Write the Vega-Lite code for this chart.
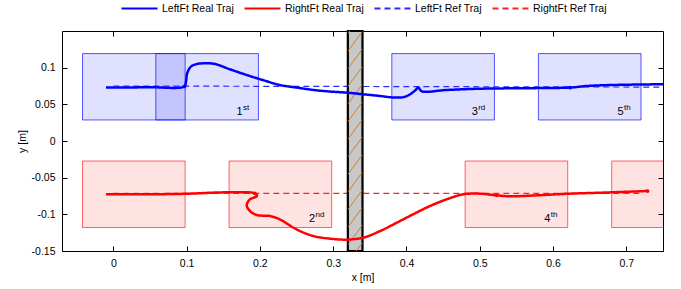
{
  "$schema": "https://vega.github.io/schema/vega-lite/v6.json",
  "width": 601,
  "height": 220,
  "autosize": {"type": "none"},
  "padding": {"left": 62, "top": 31, "right": 18, "bottom": 38},
  "config": {
    "view": {"stroke": "#000000", "strokeWidth": 1},
    "font": "Liberation Sans",
    "axis": {
      "domain": false,
      "grid": false,
      "tickSize": -5,
      "tickColor": "#000000",
      "tickWidth": 1,
      "labelFont": "Liberation Sans",
      "labelFontSize": 10.5,
      "labelColor": "#000000",
      "titleFont": "Liberation Sans",
      "titleFontSize": 10.5,
      "titleFontWeight": "normal",
      "titleColor": "#000000"
    }
  },
  "datasets": {
    "boxes": [
      {"foot": "L", "x": -0.042, "x2": 0.098, "y": 0.0287, "y2": 0.1192},
      {"foot": "L", "x": 0.058, "x2": 0.198, "y": 0.0287, "y2": 0.1192},
      {"foot": "L", "x": 0.38, "x2": 0.52, "y": 0.0287, "y2": 0.1192},
      {"foot": "L", "x": 0.58, "x2": 0.72, "y": 0.0287, "y2": 0.1192},
      {"foot": "R", "x": -0.042, "x2": 0.098, "y": -0.118, "y2": -0.0273},
      {"foot": "R", "x": 0.158, "x2": 0.298, "y": -0.118, "y2": -0.0273},
      {"foot": "R", "x": 0.48, "x2": 0.62, "y": -0.118, "y2": -0.0273},
      {"foot": "R", "x": 0.68, "x2": 0.82, "y": -0.118, "y2": -0.0273}
    ],
    "traj": [
      {"s": "LeftFt Ref Traj", "i": 0, "x": 0.0, "y": 0.075},
      {"s": "LeftFt Ref Traj", "i": 1, "x": 0.75, "y": 0.0735},
      {"s": "RightFt Ref Traj", "i": 0, "x": 0.0, "y": -0.0715},
      {"s": "RightFt Ref Traj", "i": 1, "x": 0.72, "y": -0.0715},
      {"s": "LeftFt Real Traj", "i": 0, "x": -0.010, "y": 0.0729},
      {"s": "LeftFt Real Traj", "i": 1, "x": 0.050, "y": 0.0733},
      {"s": "LeftFt Real Traj", "i": 2, "x": 0.097, "y": 0.0744},
      {"s": "LeftFt Real Traj", "i": 3, "x": 0.099, "y": 0.080},
      {"s": "LeftFt Real Traj", "i": 4, "x": 0.101, "y": 0.093},
      {"s": "LeftFt Real Traj", "i": 5, "x": 0.106, "y": 0.1015},
      {"s": "LeftFt Real Traj", "i": 6, "x": 0.114, "y": 0.105},
      {"s": "LeftFt Real Traj", "i": 7, "x": 0.125, "y": 0.106},
      {"s": "LeftFt Real Traj", "i": 8, "x": 0.138, "y": 0.1052},
      {"s": "LeftFt Real Traj", "i": 9, "x": 0.159, "y": 0.0978},
      {"s": "LeftFt Real Traj", "i": 10, "x": 0.182, "y": 0.090},
      {"s": "LeftFt Real Traj", "i": 11, "x": 0.205, "y": 0.0828},
      {"s": "LeftFt Real Traj", "i": 12, "x": 0.227, "y": 0.0764},
      {"s": "LeftFt Real Traj", "i": 13, "x": 0.250, "y": 0.0729},
      {"s": "LeftFt Real Traj", "i": 14, "x": 0.273, "y": 0.0696},
      {"s": "LeftFt Real Traj", "i": 15, "x": 0.296, "y": 0.0674},
      {"s": "LeftFt Real Traj", "i": 16, "x": 0.318, "y": 0.066},
      {"s": "LeftFt Real Traj", "i": 17, "x": 0.341, "y": 0.0637},
      {"s": "LeftFt Real Traj", "i": 18, "x": 0.364, "y": 0.0614},
      {"s": "LeftFt Real Traj", "i": 19, "x": 0.382, "y": 0.0594},
      {"s": "LeftFt Real Traj", "i": 20, "x": 0.396, "y": 0.0598},
      {"s": "LeftFt Real Traj", "i": 21, "x": 0.405, "y": 0.0637},
      {"s": "LeftFt Real Traj", "i": 22, "x": 0.413, "y": 0.0700},
      {"s": "LeftFt Real Traj", "i": 23, "x": 0.416, "y": 0.0729},
      {"s": "LeftFt Real Traj", "i": 24, "x": 0.421, "y": 0.0678},
      {"s": "LeftFt Real Traj", "i": 25, "x": 0.455, "y": 0.0696},
      {"s": "LeftFt Real Traj", "i": 26, "x": 0.500, "y": 0.0713},
      {"s": "LeftFt Real Traj", "i": 27, "x": 0.546, "y": 0.0719},
      {"s": "LeftFt Real Traj", "i": 28, "x": 0.623, "y": 0.0729},
      {"s": "LeftFt Real Traj", "i": 29, "x": 0.646, "y": 0.075},
      {"s": "LeftFt Real Traj", "i": 30, "x": 0.682, "y": 0.0764},
      {"s": "LeftFt Real Traj", "i": 31, "x": 0.750, "y": 0.0774},
      {"s": "RightFt Real Traj", "i": 0, "x": -0.010, "y": -0.0727},
      {"s": "RightFt Real Traj", "i": 1, "x": 0.043, "y": -0.0727},
      {"s": "RightFt Real Traj", "i": 2, "x": 0.098, "y": -0.072},
      {"s": "RightFt Real Traj", "i": 3, "x": 0.155, "y": -0.070},
      {"s": "RightFt Real Traj", "i": 4, "x": 0.193, "y": -0.0714},
      {"s": "RightFt Real Traj", "i": 5, "x": 0.196, "y": -0.0748},
      {"s": "RightFt Real Traj", "i": 6, "x": 0.186, "y": -0.0800},
      {"s": "RightFt Real Traj", "i": 7, "x": 0.182, "y": -0.0877},
      {"s": "RightFt Real Traj", "i": 8, "x": 0.1865, "y": -0.0955},
      {"s": "RightFt Real Traj", "i": 9, "x": 0.196, "y": -0.1010},
      {"s": "RightFt Real Traj", "i": 10, "x": 0.214, "y": -0.1023},
      {"s": "RightFt Real Traj", "i": 11, "x": 0.227, "y": -0.1068},
      {"s": "RightFt Real Traj", "i": 12, "x": 0.250, "y": -0.1205},
      {"s": "RightFt Real Traj", "i": 13, "x": 0.273, "y": -0.1296},
      {"s": "RightFt Real Traj", "i": 14, "x": 0.296, "y": -0.1332},
      {"s": "RightFt Real Traj", "i": 15, "x": 0.318, "y": -0.1345},
      {"s": "RightFt Real Traj", "i": 16, "x": 0.341, "y": -0.1318},
      {"s": "RightFt Real Traj", "i": 17, "x": 0.364, "y": -0.1228},
      {"s": "RightFt Real Traj", "i": 18, "x": 0.387, "y": -0.1113},
      {"s": "RightFt Real Traj", "i": 19, "x": 0.409, "y": -0.100},
      {"s": "RightFt Real Traj", "i": 20, "x": 0.432, "y": -0.0887},
      {"s": "RightFt Real Traj", "i": 21, "x": 0.455, "y": -0.0795},
      {"s": "RightFt Real Traj", "i": 22, "x": 0.4775, "y": -0.0727},
      {"s": "RightFt Real Traj", "i": 23, "x": 0.500, "y": -0.0718},
      {"s": "RightFt Real Traj", "i": 24, "x": 0.523, "y": -0.0741},
      {"s": "RightFt Real Traj", "i": 25, "x": 0.541, "y": -0.0754},
      {"s": "RightFt Real Traj", "i": 26, "x": 0.578, "y": -0.0741},
      {"s": "RightFt Real Traj", "i": 27, "x": 0.623, "y": -0.0718},
      {"s": "RightFt Real Traj", "i": 28, "x": 0.668, "y": -0.0704},
      {"s": "RightFt Real Traj", "i": 29, "x": 0.729, "y": -0.0682}
    ],
    "wall": [{"x": 0.32, "x2": 0.34, "y": -0.15, "y2": 0.15}],
    "hatch": [
      {"x": 0.3205, "x2": 0.3395, "y": -0.165, "y2": -0.139},
      {"x": 0.3205, "x2": 0.3395, "y": -0.141, "y2": -0.115},
      {"x": 0.3205, "x2": 0.3395, "y": -0.117, "y2": -0.091},
      {"x": 0.3205, "x2": 0.3395, "y": -0.093, "y2": -0.067},
      {"x": 0.3205, "x2": 0.3395, "y": -0.069, "y2": -0.043},
      {"x": 0.3205, "x2": 0.3395, "y": -0.045, "y2": -0.019},
      {"x": 0.3205, "x2": 0.3395, "y": -0.021, "y2": 0.005},
      {"x": 0.3205, "x2": 0.3395, "y": 0.003, "y2": 0.029},
      {"x": 0.3205, "x2": 0.3395, "y": 0.027, "y2": 0.053},
      {"x": 0.3205, "x2": 0.3395, "y": 0.051, "y2": 0.077},
      {"x": 0.3205, "x2": 0.3395, "y": 0.075, "y2": 0.101},
      {"x": 0.3205, "x2": 0.3395, "y": 0.099, "y2": 0.125},
      {"x": 0.3205, "x2": 0.3395, "y": 0.123, "y2": 0.149},
      {"x": 0.3205, "x2": 0.3395, "y": 0.147, "y2": 0.173}
    ],
    "marks": [
      {"foot": "L", "x": 0.097, "y": 0.0744},
      {"foot": "L", "x": 0.623, "y": 0.0729},
      {"foot": "R", "x": 0.193, "y": -0.0714},
      {"foot": "R", "x": 0.523, "y": -0.0741},
      {"foot": "R", "x": 0.729, "y": -0.0682}
    ],
    "labels": [
      {"num": "1", "sup": "st", "x": 0.168, "y": 0.035},
      {"num": "2", "sup": "nd", "x": 0.267, "y": -0.111},
      {"num": "3", "sup": "rd", "x": 0.489, "y": 0.035},
      {"num": "4", "sup": "th", "x": 0.588, "y": -0.111},
      {"num": "5", "sup": "th", "x": 0.688, "y": 0.035}
    ],
    "frame": [{"x": 0, "y": 0}]
  },
  "resolve": {"axis": {"x": "independent", "y": "independent"}},
  "layer": [
    {
      "data": {"name": "boxes"},
      "transform": [{"filter": "datum.foot == 'L'"}],
      "mark": {"type": "rect", "fill": "#0000ff", "fillOpacity": 0.12, "stroke": "#0000ff", "strokeOpacity": 0.65, "strokeWidth": 1, "clip": true},
      "encoding": {
        "x": {"field": "x", "type": "quantitative",
          "scale": {"domain": [-0.07, 0.75], "nice": false, "zero": false},
          "axis": {"orient": "bottom", "values": [0, 0.1, 0.2, 0.3, 0.4, 0.5, 0.6, 0.7], "labelExpr": "'' + datum.value", "labelPadding": 12, "title": "x [m]", "titlePadding": 4}},
        "x2": {"field": "x2"},
        "y": {"field": "y", "type": "quantitative",
          "scale": {"domain": [-0.15, 0.15], "nice": false, "zero": false},
          "axis": {"orient": "left", "values": [-0.15, -0.1, -0.05, 0, 0.05, 0.1], "labelExpr": "'' + datum.value", "labelPadding": 12, "title": "y [m]", "titlePadding": 4}},
        "y2": {"field": "y2"}
      }
    },
    {
      "data": {"name": "frame"},
      "mark": {"type": "point", "opacity": 0},
      "encoding": {
        "x": {"field": "x", "type": "quantitative", "axis": {"orient": "top", "values": [0, 0.1, 0.2, 0.3, 0.4, 0.5, 0.6, 0.7], "labels": false, "title": null, "ticks": true, "tickSize": -5, "tickColor": "#000000"}},
        "y": {"field": "y", "type": "quantitative", "axis": {"orient": "right", "values": [-0.15, -0.1, -0.05, 0, 0.05, 0.1], "labels": false, "title": null, "ticks": true, "tickSize": -5, "tickColor": "#000000"}}
      }
    },
    {
      "data": {"name": "boxes"},
      "transform": [{"filter": "datum.foot == 'R'"}],
      "mark": {"type": "rect", "fill": "#ff0000", "fillOpacity": 0.11, "stroke": "#ff0000", "strokeOpacity": 0.6, "strokeWidth": 1, "clip": true},
      "encoding": {
        "x": {"field": "x", "type": "quantitative", "axis": null},
        "x2": {"field": "x2"},
        "y": {"field": "y", "type": "quantitative", "axis": null},
        "y2": {"field": "y2"}
      }
    },
    {
      "data": {"name": "traj"},
      "transform": [{"filter": "indexof(datum.s, 'Ref') >= 0"}],
      "mark": {"type": "line", "strokeWidth": 1.2, "clip": true},
      "encoding": {
        "x": {"field": "x", "type": "quantitative", "axis": null},
        "y": {"field": "y", "type": "quantitative", "axis": null},
        "order": {"field": "i", "type": "quantitative"},
        "color": {"field": "s", "type": "nominal",
          "scale": {"domain": ["LeftFt Real Traj", "RightFt Real Traj", "LeftFt Ref Traj", "RightFt Ref Traj"], "range": ["#0000ff", "#ff0000", "#2a2aff", "#ff2020"]},
          "legend": {"title": null, "orient": "none", "legendX": 58, "legendY": -42, "direction": "horizontal", "symbolType": "stroke", "symbolSize": 1300, "symbolStrokeWidth": 2, "labelFont": "Liberation Sans", "labelFontSize": 10.5, "labelColor": "#000000", "labelOffset": 3, "columnPadding": 6, "padding": 0}},
        "strokeDash": {"field": "s", "type": "nominal",
          "scale": {"domain": ["LeftFt Real Traj", "RightFt Real Traj", "LeftFt Ref Traj", "RightFt Ref Traj"], "range": [[1, 0], [1, 0], [6, 4], [6, 4]]}}
      }
    },
    {
      "data": {"name": "wall"},
      "mark": {"type": "rect", "fill": "#c8c8c8", "stroke": "#000000", "strokeWidth": 2.2},
      "encoding": {
        "x": {"field": "x", "type": "quantitative", "axis": null},
        "x2": {"field": "x2"},
        "y": {"field": "y", "type": "quantitative", "axis": null},
        "y2": {"field": "y2"}
      }
    },
    {
      "data": {"name": "hatch"},
      "mark": {"type": "rule", "stroke": "#d0802a", "strokeWidth": 1, "clip": true},
      "encoding": {
        "x": {"field": "x", "type": "quantitative", "axis": null},
        "x2": {"field": "x2"},
        "y": {"field": "y", "type": "quantitative", "axis": null},
        "y2": {"field": "y2"}
      }
    },
    {
      "data": {"name": "traj"},
      "transform": [{"filter": "indexof(datum.s, 'Real') >= 0"}],
      "mark": {"type": "line", "strokeWidth": 2.5, "clip": true, "interpolate": "catmull-rom"},
      "encoding": {
        "x": {"field": "x", "type": "quantitative", "axis": null},
        "y": {"field": "y", "type": "quantitative", "axis": null},
        "order": {"field": "i", "type": "quantitative"},
        "color": {"field": "s", "type": "nominal"},
        "strokeDash": {"field": "s", "type": "nominal"}
      }
    },
    {
      "data": {"name": "marks"},
      "mark": {"type": "point", "filled": true, "size": 14, "opacity": 1},
      "encoding": {
        "x": {"field": "x", "type": "quantitative", "axis": null},
        "y": {"field": "y", "type": "quantitative", "axis": null},
        "fill": {"field": "foot", "type": "nominal", "scale": {"domain": ["L", "R"], "range": ["#0000ff", "#ff0000"]}, "legend": null}
      }
    },
    {
      "data": {"name": "labels"},
      "mark": {"type": "text", "align": "left", "baseline": "alphabetic", "font": "Liberation Sans", "fontSize": 11, "color": "#000000"},
      "encoding": {
        "x": {"field": "x", "type": "quantitative", "axis": null},
        "y": {"field": "y", "type": "quantitative", "axis": null},
        "text": {"field": "num"}
      }
    },
    {
      "data": {"name": "labels"},
      "mark": {"type": "text", "align": "left", "baseline": "alphabetic", "font": "Liberation Sans", "fontSize": 8, "color": "#000000", "dx": 6.5, "dy": -5},
      "encoding": {
        "x": {"field": "x", "type": "quantitative", "axis": null},
        "y": {"field": "y", "type": "quantitative", "axis": null},
        "text": {"field": "sup"}
      }
    }
  ]
}
